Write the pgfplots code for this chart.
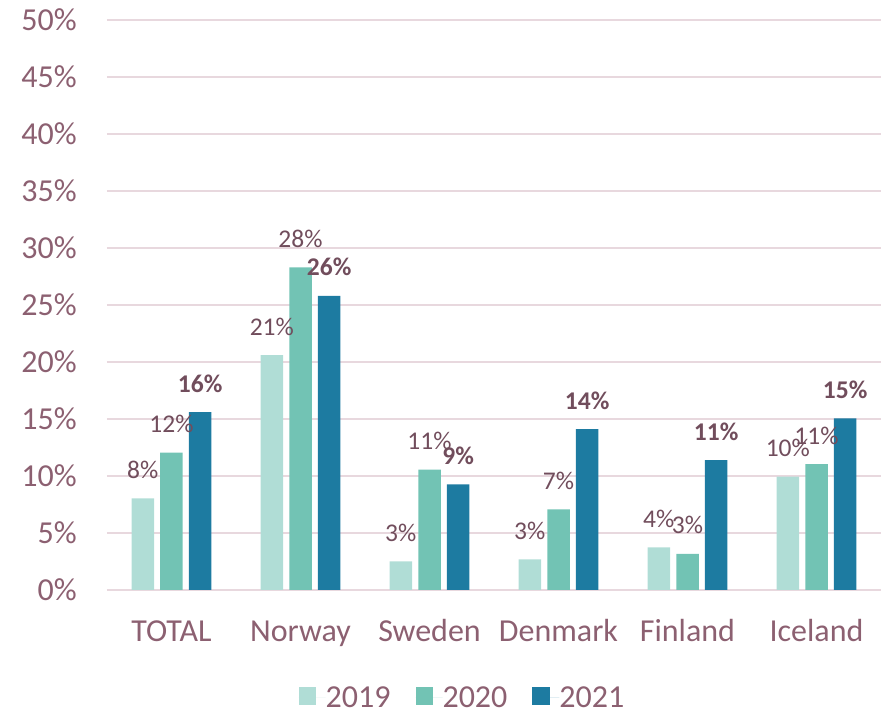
\documentclass[border=0pt]{standalone}
\usepackage{fontspec}
\setmainfont{Carlito}
\usepackage{pgfplots}
\pgfplotsset{compat=1.18}
\definecolor{cA}{RGB}{176,221,214}
\definecolor{cB}{RGB}{114,195,180}
\definecolor{cC}{RGB}{29,123,161}
\definecolor{tickc}{RGB}{140,96,113}
\definecolor{labc}{RGB}{113,77,92}
\definecolor{gridc}{RGB}{232,216,222}
\begin{document}
\begin{tikzpicture}
\path[use as bounding box] (-107pt,-118pt) rectangle (787pt,590pt);
\begin{axis}[
  scale only axis, width=774pt, height=570pt,
  xmin=-0.5, xmax=5.5, ymin=0, ymax=50,
  ybar=6.2pt, bar width=22.5pt,
  axis line style={draw=none},
  ymajorgrids, grid style={gridc, line width=1.5pt},
  ytick={0,5,...,50}, yticklabel={\pgfmathprintnumber{\tick}\%},
  xtick={0,...,5}, xticklabels={TOTAL,Norway,Sweden,Denmark,Finland,Iceland},
  major tick length=0pt,
  /pgf/number format/assume math mode=true,
  tick label style={font=\fontsize{32}{38}\selectfont, text=tickc},
  yticklabel style={inner sep=0pt, xshift=-30pt},
  xticklabel style={anchor=base, yshift=-52pt},
  nodes near coords={\pgfmathprintnumber[fixed,precision=0]{\pgfplotspointmeta}\%},
  every node near coord/.append style={font=\fontsize{25.5}{30}\selectfont, text=labc, anchor=base, yshift=20pt},
  legend columns=3,
  legend style={at={(0.458,-0.189)}, anchor=center, draw=none, inner sep=0pt, font=\fontsize{32}{38}\selectfont, text=tickc,
    nodes={inner sep=0pt},
    /tikz/every even column/.append style={column sep=25pt}},
  legend image code/.code={\fill[#1] (0pt,-7pt) rectangle (17.7pt,11pt); \path (0pt,0pt) -- (27pt,0pt);},
]
\addplot[fill=cA, draw=none] coordinates {(0,8.04) (1,20.6) (2,2.5) (3,2.69) (4,3.74) (5,9.94)};
\addplot[fill=cB, draw=none] coordinates {(0,12.05) (1,28.3) (2,10.55) (3,7.08) (4,3.16) (5,11.05)};
\addplot[fill=cC, draw=none, every node near coord/.append style={font=\fontsize{25.5}{30}\selectfont\bfseries}] coordinates {(0,15.6) (1,25.8) (2,9.27) (3,14.12) (4,11.4) (5,15.06)};
\legend{2019,2020,2021}
\end{axis}
\end{tikzpicture}
\end{document}
